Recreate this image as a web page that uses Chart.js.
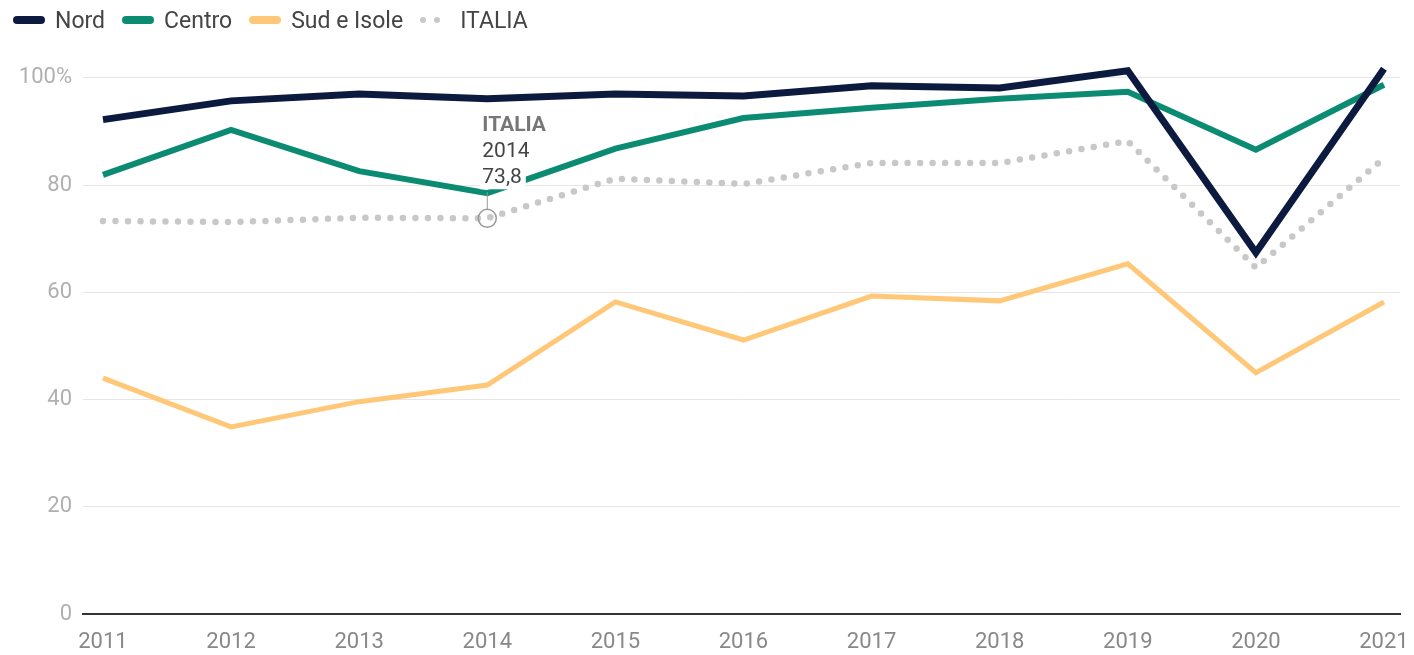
<!DOCTYPE html>
<html lang="it">
<head>
<meta charset="utf-8">
<script src="https://cdn.jsdelivr.net/npm/chart.js@4"></script>
<style>
  html, body { margin: 0; padding: 0; background: #fff; }
  body { width: 1414px; height: 655px; position: relative; overflow: hidden; font-family: Roboto, sans-serif; }
  #legenda { position: absolute; left: 13px; top: 6px; height: 28px; display: flex; align-items: center; font-size: 23px; color: #444; z-index: 2; }
  .voce { display: flex; align-items: center; margin-right: 17px; }
  .tratto { display: inline-block; width: 32px; height: 8px; border-radius: 4px; margin-right: 10px; }
  .puntini { display: inline-flex; width: 20px; margin-right: 20px; gap: 8px; }
  .puntini span { width: 6px; height: 6px; border-radius: 50%; background: #c8c8c8; }
  #contenitore { position: absolute; left: 0; top: 0; width: 1414px; height: 655px; }
</style>
</head>
<body>
<div id="legenda"></div>
<div id="contenitore"><canvas id="grafico"></canvas></div>
<script>
// Dati (quota percentuale per ripartizione)
const anni = [2011, 2012, 2013, 2014, 2015, 2016, 2017, 2018, 2019, 2020, 2021];
const nord = [92.2, 95.7, 97.0, 96.1, 97.0, 96.6, 98.5, 98.1, 101.3, 67.4, 101.7];
const centro = [81.9, 90.3, 82.6, 78.5, 86.8, 92.5, 94.4, 96.1, 97.4, 86.6, 98.7];
const sudIsole = [44.0, 34.9, 39.6, 42.7, 58.2, 51.1, 59.3, 58.4, 65.3, 45.0, 58.2];
const italia = [73.3, 73.1, 73.9, 73.8, 81.2, 80.2, 84.1, 84.1, 88.2, 64.6, 85.0];
const tickY = [0, 20, 40, 60, 80, 100];
const annoEvidenziato = 2014;

const serie = [
  { nome: 'Nord', valori: nord, colore: '#0c1a3f', spessore: 7 },
  { nome: 'Centro', valori: centro, colore: '#0b8c72', spessore: 6 },
  { nome: 'Sud e Isole', valori: sudIsole, colore: '#ffc878', spessore: 5 },
  { nome: 'ITALIA', valori: italia, colore: '#c8c8c8', spessore: 6.5, puntinato: true }
];

// Legenda HTML
const legenda = document.getElementById('legenda');
serie.forEach(s => {
  const voce = document.createElement('div');
  voce.className = 'voce';
  if (s.puntinato) {
    voce.innerHTML = '<span class="puntini"><span></span><span></span></span>' + s.nome;
  } else {
    voce.innerHTML = '<span class="tratto" style="background:' + s.colore + '"></span>' + s.nome;
  }
  legenda.appendChild(voce);
});

// Etichetta sul punto ITALIA 2014
const annotazione = {
  id: 'annotazione',
  afterDatasetsDraw(chart) {
    const ctx = chart.ctx;
    const i = anni.indexOf(annoEvidenziato);
    const px = chart.scales.x.getPixelForValue(anni[i]);
    const py = chart.scales.y.getPixelForValue(italia[i]);
    ctx.save();
    // cerchio
    ctx.beginPath();
    ctx.arc(px, py, 9, 0, Math.PI * 2);
    ctx.strokeStyle = '#999';
    ctx.lineWidth = 1.5;
    ctx.stroke();
    // linea verso il testo
    ctx.beginPath();
    ctx.moveTo(px, py - 9);
    ctx.lineTo(px, py - 26);
    ctx.lineWidth = 1;
    ctx.stroke();
    // testo
    const righe = [
      { t: 'ITALIA', font: 'bold 21px Roboto', colore: '#777' },
      { t: String(annoEvidenziato), font: '21px Roboto', colore: '#444' },
      { t: italia[i].toFixed(1).replace('.', ','), font: '21px Roboto', colore: '#444' }
    ];
    const x0 = px - 5;
    let yy = py - 93;
    ctx.textBaseline = 'middle';
    righe.forEach(r => {
      ctx.font = r.font;
      const w = ctx.measureText(r.t).width;
      ctx.fillStyle = '#fff';
      ctx.fillRect(x0 - 2, yy - 12, w + 6, 24);
      ctx.fillStyle = r.colore;
      ctx.fillText(r.t, x0, yy);
      yy += 26;
    });
    ctx.restore();
  }
};

const ctx = document.getElementById('grafico').getContext('2d');
new Chart(ctx, {
  type: 'line',
  data: {
    datasets: serie.map(s => ({
      label: s.nome,
      data: anni.map((a, k) => ({ x: a, y: s.valori[k] })),
      borderColor: s.colore,
      backgroundColor: s.colore,
      borderWidth: s.spessore,
      borderDash: s.puntinato ? [0, 12.5] : [],
      borderCapStyle: s.puntinato ? 'round' : 'butt',
      borderJoinStyle: 'miter',
      pointRadius: 0,
      tension: 0,
      fill: false
    }))
  },
  options: {
    responsive: true,
    maintainAspectRatio: false,
    animation: false,
    layout: { padding: { top: 51, right: 14, left: 0, bottom: 0 } },
    plugins: {
      legend: { display: false },
      tooltip: { enabled: false }
    },
    scales: {
      x: {
        type: 'linear',
        min: 2010.844,
        max: 2021.125,
        afterBuildTicks: axis => { axis.ticks = anni.map(v => ({ value: v })); },
        afterFit: axis => { axis.height = 41; axis.paddingLeft = 0; axis.paddingRight = 0; },
        grid: { display: false, drawTicks: false },
        border: { color: '#333', width: 2 },
        ticks: {
          color: '#888',
          font: { family: 'Roboto', size: 22 },
          padding: 15,
          maxRotation: 0,
          autoSkip: false,
          callback: v => String(v)
        }
      },
      y: {
        min: 0,
        max: 105,
        afterBuildTicks: axis => { axis.ticks = tickY.map(v => ({ value: v })); },
        afterFit: axis => { axis.width = 83; axis.paddingTop = 0; axis.paddingBottom = 0; },
        grid: { color: '#e6e6e6', lineWidth: 1, drawTicks: false },
        border: { display: false },
        ticks: {
          color: '#b0b0b0',
          font: { family: 'Roboto', size: 22 },
          padding: 11,
          callback: v => v === 100 ? '100%' : String(v)
        }
      }
    }
  },
  plugins: [annotazione]
});
</script>
</body>
</html>
